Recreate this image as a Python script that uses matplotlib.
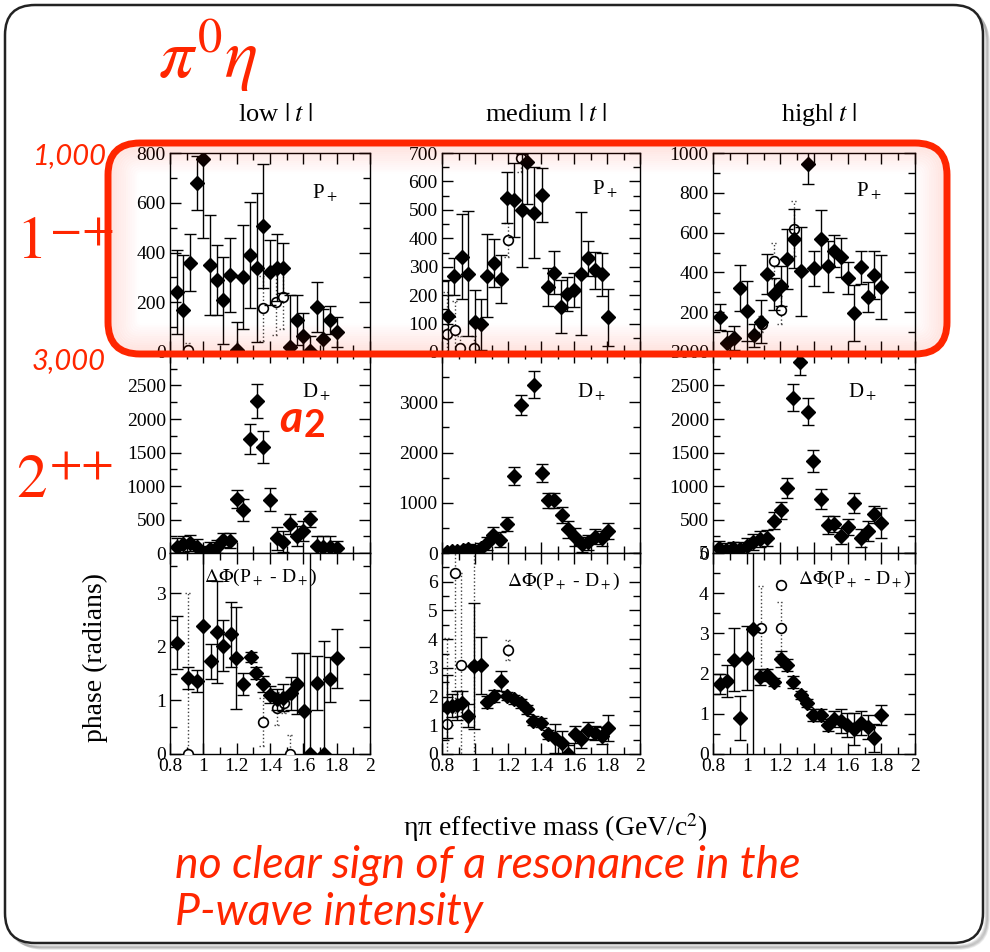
import matplotlib
matplotlib.use('Agg')
import matplotlib.pyplot as plt
from matplotlib.patches import FancyBboxPatch
from matplotlib.transforms import IdentityTransform
from matplotlib.ticker import MultipleLocator, FixedLocator

W, H = 990, 952
RED = '#ff2600'

# ---- P+ intensity, low / medium / high |t| ----
p_low_m = [0.84, 0.88, 0.92, 0.96, 1.00, 1.04, 1.08, 1.12, 1.16, 1.20, 1.24, 1.28, 1.32,
           1.36, 1.40, 1.44, 1.48, 1.52, 1.56, 1.60, 1.64, 1.68, 1.72, 1.76, 1.80]
p_low_v = [242, 168, 359, 679, 777, 350, 289, 208, 309, 7, 302, 390, 339,
           507, 320, 339, 339, 20, 128, 63, 4, 181, 54, 128, 81]
p_low_e = [170, 220, 115, 110, 320, 200, 140, 175, 150, 115, 210, 215, 300,
           250, 130, 135, 100, 210, 100, 95, 60, 100, 120, 55, 60]
p_low_open_m = [0.91, 1.356, 1.434, 1.476]
p_low_open_v = [7, 175, 199, 222]
p_low_open_e = [30, 130, 130, 130]

p_med_m = [0.834, 0.875, 0.92, 0.956, 1.0, 1.036, 1.075, 1.117, 1.157, 1.196, 1.236, 1.283, 1.317,
           1.36, 1.404, 1.44, 1.48, 1.521, 1.56, 1.6, 1.642, 1.686, 1.727, 1.771, 1.808]
p_med_v = [125, 267, 335, 275, 107, 97, 269, 314, 257, 543, 536, 498, 670,
           489, 552, 229, 279, 160, 204, 219, 276, 329, 287, 273, 122]
p_med_e = [130, 65, 150, 220, 110, 90, 145, 85, 85, 90, 130, 200, 150,
           160, 95, 68, 75, 92, 60, 60, 215, 62, 65, 75, 100]
p_med_open_m = [0.828, 0.879, 0.91, 0.996, 1.198, 1.277]
p_med_open_v = [62, 79, 15, 15, 394, 682]
p_med_open_e = [150, 100, 40, 40, 60, 50]

p_high_m = [0.842, 0.885, 0.925, 0.96, 1.0, 1.044, 1.085, 1.119, 1.162, 1.204, 1.242, 1.281, 1.321,
            1.366, 1.4, 1.442, 1.481, 1.521, 1.56, 1.6, 1.638, 1.677, 1.719, 1.758, 1.796]
p_high_v = [178, 47, 72, 322, 205, 83, 153, 392, 292, 333, 467, 570, 405,
            947, 422, 570, 430, 508, 475, 370, 197, 425, 275, 387, 325]
p_high_e = [65, 60, 60, 115, 150, 60, 110, 100, 80, 100, 150, 150, 225,
            105, 88, 145, 130, 80, 100, 80, 140, 85, 75, 120, 160]
p_high_open_m = [1.09, 1.162, 1.202, 1.281]
p_high_open_v = [142, 458, 213, 620]
p_high_open_e = [40, 90, 70, 140]

# ---- D+ intensity ----
d_low_m = p_low_m
d_low_v = [97, 132, 156, 97, 0, 58, 97, 195, 185, 804, 643, 1696, 2266,
           1584, 794, 219, 171, 429, 253, 327, 512, 107, 97, 97, 73]
d_low_e = [120, 120, 120, 110, 100, 100, 100, 110, 110, 130, 170, 225, 250,
           240, 170, 170, 150, 150, 150, 150, 120, 150, 150, 150, 100]

d_med_m = [0.828, 0.859, 0.893, 0.925, 0.96, 0.994, 1.034, 1.07, 1.111, 1.152, 1.196, 1.236, 1.277,
           1.358, 1.404, 1.44, 1.481, 1.525, 1.566, 1.606, 1.646, 1.687, 1.727, 1.768, 1.808]
d_med_v = [13, 33, 46, 65, 78, 33, 98, 196, 359, 261, 575, 1536, 2941,
           3353, 1588, 1046, 1046, 765, 471, 327, 176, 209, 327, 294, 438]
d_med_e = [60, 60, 70, 80, 100, 120, 100, 130, 150, 150, 140, 180, 200,
           260, 180, 150, 150, 160, 170, 180, 150, 150, 150, 150, 150]

d_high_m = [0.838, 0.877, 0.917, 0.96, 1.0, 1.04, 1.079, 1.119, 1.162, 1.202, 1.238, 1.277, 1.317,
            1.366, 1.396, 1.44, 1.481, 1.521, 1.56, 1.6, 1.638, 1.679, 1.719, 1.756, 1.796]
d_high_v = [75, 50, 70, 60, 110, 160, 210, 220, 485, 635, 975, 2320, 2845,
            2110, 1375, 800, 420, 435, 250, 385, 750, 225, 335, 575, 445]
d_high_e = [100, 100, 100, 100, 120, 120, 120, 120, 120, 130, 150, 200, 190,
            200, 160, 150, 130, 120, 120, 120, 150, 130, 150, 130, 220]

# ---- phase difference P+ - D+ (radians) ----
ph_low_m = [0.84, 0.91, 0.96, 1.0, 1.046, 1.08, 1.12, 1.164, 1.196, 1.24, 1.284, 1.316,
            1.36, 1.40, 1.44, 1.48, 1.524, 1.564, 1.604, 1.64, 1.684, 1.724, 1.76, 1.804]
ph_low_v = [2.08, 1.42, 1.36, 2.38, 1.73, 2.27, 2.02, 2.23, 1.79, 1.31, 1.81, 1.51,
            1.30, 1.11, 1.02, 1.05, 1.13, 1.31, 0.80, 0.0, 1.33, 0.0, 1.39, 1.79]
ph_low_e = [0.5, 0.2, 0.2, 5.0, 0.33, 0.95, 0.48, 0.6, 0.95, 0.2, 0.1, 0.12,
            0.15, 0.15, 0.2, 0.25, 0.3, 0.57, 1.08, 5.0, 0.5, 2.1, 0.42, 0.55]
ph_low_open_m = [0.91, 1.356, 1.444, 1.484, 1.52]
ph_low_open_v = [0.0, 0.59, 0.85, 0.96, 0.0]
ph_low_open_e = [3.0, 0.45, 0.3, 0.2, 0.35]

ph_med_m = [0.828, 0.859, 0.893, 0.919, 0.956, 0.996, 1.036, 1.075, 1.115, 1.157, 1.196, 1.236, 1.277,
            1.313, 1.353, 1.398, 1.444, 1.485, 1.525, 1.566, 1.606, 1.642, 1.687, 1.727, 1.768, 1.808]
ph_med_v = [1.64, 1.68, 1.70, 1.76, 1.33, 3.06, 3.09, 1.81, 2.02, 2.54, 2.02, 1.90, 1.76,
            1.55, 1.16, 1.09, 0.68, 0.54, 0.40, 0.0, 0.69, 0.51, 0.83, 0.74, 0.64, 0.91]
ph_med_e = [1.1, 0.4, 0.5, 0.45, 0.4, 2.2, 1.0, 0.2, 0.2, 0.35, 0.15, 0.15, 0.15,
            0.15, 0.15, 0.15, 0.15, 0.5, 0.4, 0.3, 0.3, 0.3, 0.3, 0.25, 0.3, 0.45]
ph_med_open_m = [0.832, 0.879, 0.913, 0.996, 1.202]
ph_med_open_v = [1.04, 6.3, 3.09, 3.06, 3.61]
ph_med_open_e = [3.0, 5.0, 3.2, 4.0, 0.35]

ph_high_m = [0.842, 0.881, 0.925, 0.96, 1.0, 1.04, 1.079, 1.119, 1.162, 1.202, 1.238, 1.277, 1.32,
             1.36, 1.396, 1.44, 1.481, 1.52, 1.56, 1.598, 1.638, 1.677, 1.719, 1.758, 1.796]
ph_high_v = [1.75, 1.81, 2.35, 0.89, 2.39, 3.1, 1.92, 1.96, 1.79, 2.37, 2.22, 1.79, 1.46,
             1.27, 0.96, 0.98, 0.71, 0.875, 0.82, 0.73, 0.63, 0.78, 0.67, 0.39, 0.98]
ph_high_e = [0.25, 0.4, 0.78, 0.55, 0.8, 4.0, 0.2, 0.15, 0.1, 0.2, 0.15, 0.15, 0.1,
             0.1, 0.15, 0.15, 0.15, 0.2, 0.3, 0.3, 0.4, 0.3, 0.3, 0.35, 0.25]
ph_high_open_m = [1.085, 1.202, 1.202]
ph_high_open_v = [3.14, 4.21, 3.14]
ph_high_open_e = [1.05, 0.1, 0.65]

col_titles = ['low $|\\;t\\;|$', 'medium $|\\;t\\;|$', 'high$|\\;t\\;|$']
x_ticks = [0.8, 1, 1.2, 1.4, 1.6, 1.8, 2]

plt.rcParams['font.family'] = ['Liberation Serif', 'DejaVu Serif']
plt.rcParams['mathtext.fontset'] = 'stix'


def fx(x):
    return x / W


def fy(y):
    return 1 - y / H


def rounded(x0, y0, x1, y1, r, **kw):
    # pixel box, y measured from the top
    return FancyBboxPatch((x0, H - y1), x1 - x0, y1 - y0,
                          boxstyle=f"round,pad=0,rounding_size={r}",
                          transform=IdentityTransform(), **kw)


fig = plt.figure(figsize=(9.9, 9.52), dpi=100)

# slide frame with a soft shadow, kept behind the axes
for i in range(6):
    fig.add_artist(rounded(8 + i, 8 + i, 986 + i * 0.5, 946 + i * 0.5, 30,
                           fc='none', ec='black', lw=2, alpha=0.06, zorder=-10))
fig.add_artist(rounded(5, 5, 983, 943, 30, fc='white', ec='#222222', lw=1.8, zorder=-9))

cols = [(170, 370), (442, 640), (713, 915)]
rows = [(153, 352), (352, 553), (553, 754)]

panels = [
    # row 0: P+
    [(p_low_m, p_low_v, p_low_e, p_low_open_m, p_low_open_v, p_low_open_e, 800, [0, 200, 400, 600, 800], 100),
     (p_med_m, p_med_v, p_med_e, p_med_open_m, p_med_open_v, p_med_open_e, 700, list(range(0, 701, 100)), 50),
     (p_high_m, p_high_v, p_high_e, p_high_open_m, p_high_open_v, p_high_open_e, 1000, [200, 400, 600, 800, 1000], 100)],
    # row 1: D+
    [(d_low_m, d_low_v, d_low_e, [], [], [], 3000, [0, 500, 1000, 1500, 2000, 2500], 250),
     (d_med_m, d_med_v, d_med_e, [], [], [], 4000, [0, 1000, 2000, 3000], 500),
     (d_high_m, d_high_v, d_high_e, [], [], [], 3000, [0, 500, 1000, 1500, 2000, 2500, 3000], 250)],
    # row 2: phase
    [(ph_low_m, ph_low_v, ph_low_e, ph_low_open_m, ph_low_open_v, ph_low_open_e, 3.75, [0, 1, 2, 3], 0.5),
     (ph_med_m, ph_med_v, ph_med_e, ph_med_open_m, ph_med_open_v, ph_med_open_e, 7, [0, 1, 2, 3, 4, 5, 6], 0.5),
     (ph_high_m, ph_high_v, ph_high_e, ph_high_open_m, ph_high_open_v, ph_high_open_e, 5, [0, 1, 2, 3, 4, 5], 0.5)],
]
row_labels = ['P$_+$', 'D$_+$', '$\\Delta\\Phi$(P$_+$ - D$_+$)']
label_pos = [[(0.71, 0.80), (0.76, 0.82), (0.71, 0.81)],
             [(0.66, 0.80), (0.68, 0.80), (0.67, 0.80)],
             [(0.17, 0.88), (0.33, 0.86), (0.42, 0.87)]]

for r, (ytop, ybot) in enumerate(rows):
    for c, (xl, xr) in enumerate(cols):
        m, v, e, mo, vo, eo, ymax, yt, ymin_step = panels[r][c]
        ax = fig.add_axes([fx(xl), fy(ybot), (xr - xl) / W, (ybot - ytop) / H])
        # open circles with dotted error bars
        for xm, yv, ye in zip(mo, vo, eo):
            ax.plot([xm, xm], [yv - ye, yv + ye], ls=':', color='0.25', lw=1)
            ax.plot([xm - 0.02, xm + 0.02], [yv - ye, yv - ye], ls=':', color='0.25', lw=1)
            ax.plot([xm - 0.02, xm + 0.02], [yv + ye, yv + ye], ls=':', color='0.25', lw=1)
        if mo:
            ax.plot(mo, vo, 'o', mfc='white', mec='black', ms=7, mew=1.2, zorder=3)
        ax.errorbar(m, v, yerr=e, fmt='D', color='black', ms=7.5, elinewidth=1,
                    capsize=4, capthick=1, zorder=4)
        ax.set_xlim(0.8, 2.0)
        ax.set_ylim(0, ymax)
        ax.xaxis.set_major_locator(FixedLocator(x_ticks))
        ax.xaxis.set_minor_locator(MultipleLocator(0.1))
        ax.yaxis.set_major_locator(FixedLocator(yt))
        ax.yaxis.set_minor_locator(MultipleLocator(ymin_step))
        ax.set_xticklabels([('%g' % t) for t in x_ticks])
        ax.tick_params(which='both', direction='in', top=True, right=True, width=1, labelsize=14, pad=3)
        ax.tick_params(which='major', length=8)
        ax.tick_params(which='minor', length=5)
        if r < 2:
            ax.tick_params(labelbottom=False)
        for s in ax.spines.values():
            s.set_linewidth(1)
        lx, ly = label_pos[r][c]
        ax.text(lx, ly, row_labels[r], transform=ax.transAxes, fontsize=15 if r < 2 else 14,
                ha='left', va='center')

# column headers and axis titles
for (xl, xr), title in zip(cols, col_titles):
    fig.text(fx((xl + xr) / 2 + 5), fy(115), title, ha='center', va='center', fontsize=19)
fig.text(fx(95), fy(658), 'phase (radians)', rotation=90, ha='center', va='center', fontsize=20)
fig.text(fx(555), fy(828), '\u03b7\u03c0 effective mass (GeV/c$^2$)', ha='center', va='center', fontsize=20)

# red highlight box with a soft inner glow
for i in range(1, 14):
    fig.add_artist(rounded(108 + i * 2.2, 143 + i * 2.2, 947 - i * 2.2, 354 - i * 2.2, max(32 - i * 2, 6),
                           fc='none', ec=RED, lw=3.2, alpha=0.07 * (1 - i / 14), zorder=5))
fig.add_artist(rounded(108, 143, 947, 354, 32, fc='none', ec=RED, lw=5, zorder=6))

# red annotations
fig.text(fx(158), fy(78), '$\\pi^0\\eta$', color=RED, fontsize=50, ha='left', va='baseline')
fig.text(fx(16), fy(258), '1', color=RED, fontsize=44, family='STIXGeneral', ha='left', va='baseline')
fig.text(fx(50), fy(244), '\u2212+', color=RED, fontsize=34, family='STIXGeneral', ha='left', va='baseline')
fig.text(fx(16), fy(497), '2', color=RED, fontsize=44, family='STIXGeneral', ha='left', va='baseline')
fig.text(fx(50), fy(478), '++', color=RED, fontsize=34, family='STIXGeneral', ha='left', va='baseline')
fig.text(fx(32), fy(164), '1,000', color=RED, fontsize=21, style='italic', family='Lato',
         ha='left', va='baseline')
fig.text(fx(32), fy(369), '3,000', color=RED, fontsize=21, style='italic', family='Lato',
         ha='left', va='baseline')
fig.text(fx(279), fy(432), 'a', color=RED, fontsize=32, style='italic', weight='bold', family='Lato',
         ha='left', va='baseline')
fig.text(fx(304), fy(437), '2', color=RED, fontsize=27, weight='bold', family='Lato',
         ha='left', va='baseline')
fig.text(fx(175), fy(878), 'no clear sign of a resonance in the', color=RED, fontsize=32,
         style='italic', family='Lato', ha='left', va='baseline')
fig.text(fx(175), fy(925), 'P-wave intensity', color=RED, fontsize=32,
         style='italic', family='Lato', ha='left', va='baseline')

fig.savefig('out.png', dpi=100)
